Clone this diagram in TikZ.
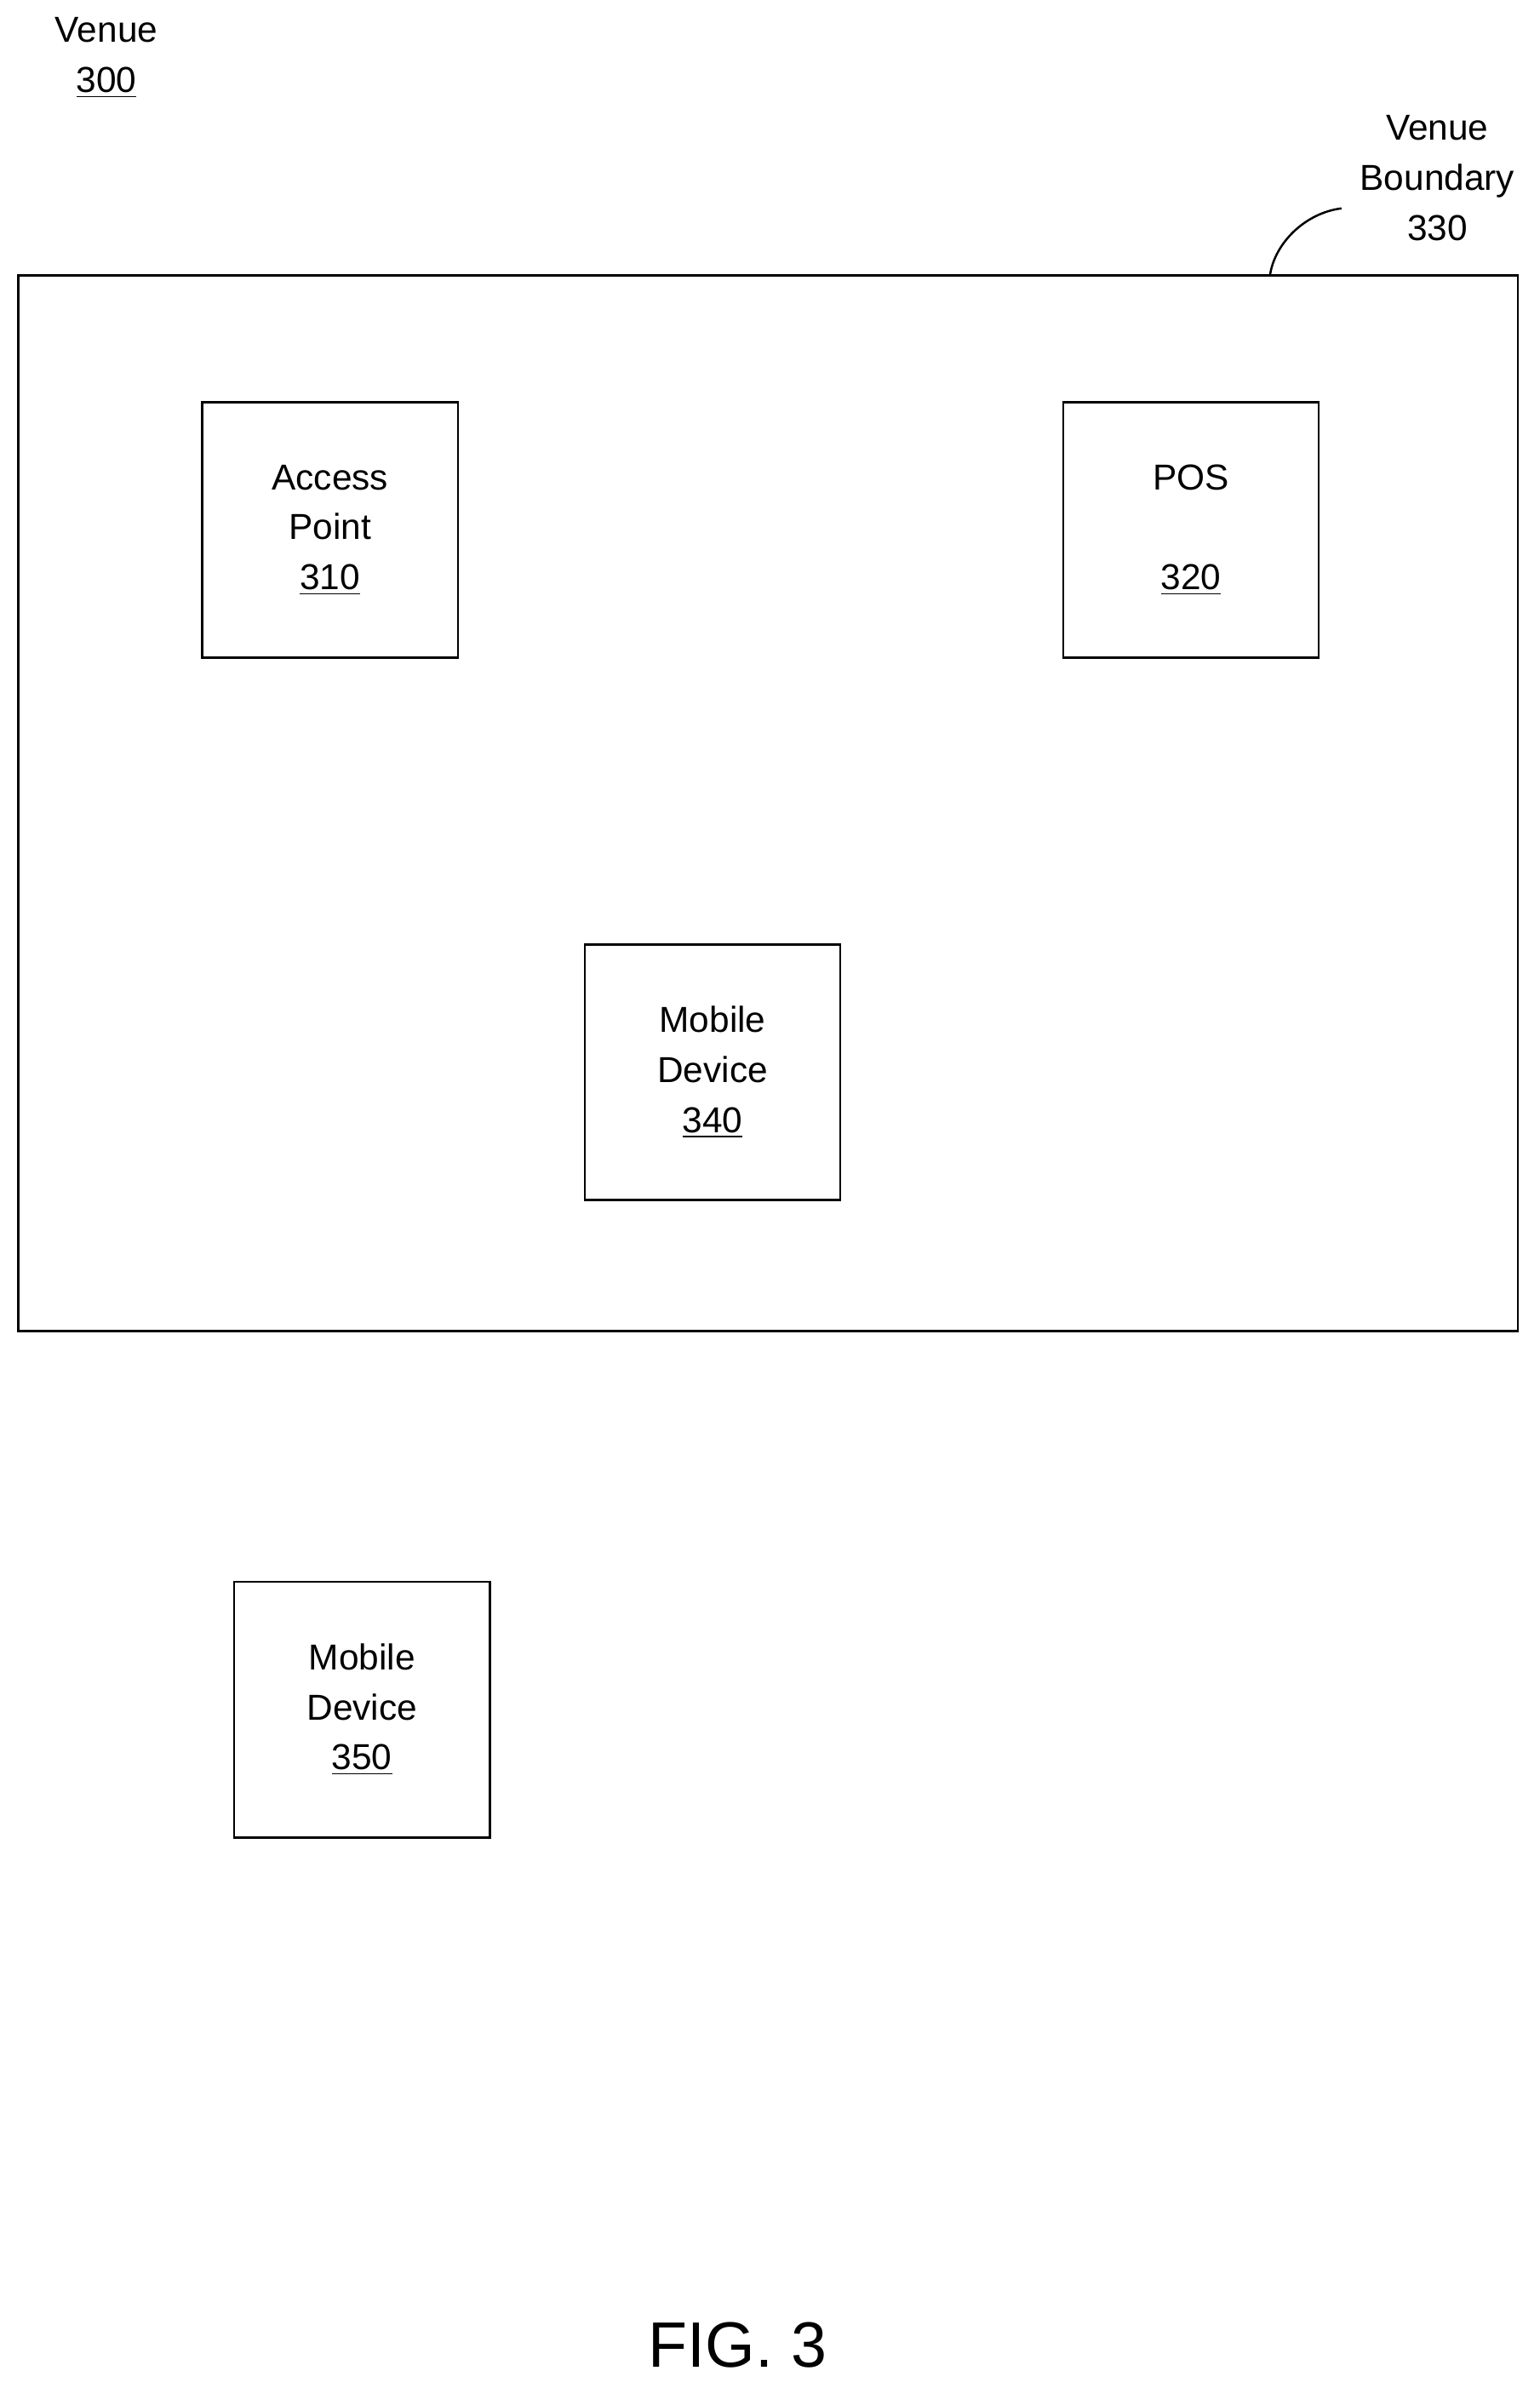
\documentclass[tikz,border=0pt]{standalone}
\usepackage{fontspec}
\setmainfont{Liberation Sans}
\usetikzlibrary{positioning}
\tikzset{
  unit/.style = {draw, thick, minimum width = 33.6mm, minimum height = 33.6mm, align = center, inner sep = 0pt},
  lbl/.style = {align = center}
}
\begin{document}
\begin{tikzpicture}[x = 0.2mm, y = -0.2mm, font = \fontsize{13.5}{18.7}\selectfont]
  \useasboundingbox (0,0) rectangle (1012,1570);

  % Venue
  \node[lbl] (venue) at (70,38) {Venue\\\underline{300}};

  % Boundary
  \draw[thick] (12,181) rectangle (998,875);
  \coordinate (bnd) at (835,181);
  \node[lbl] (bndlbl) at (945,117) {Venue\\Boundary\\330};
  \draw[thick] (bnd) .. controls (838,160) and (858,140) .. (882,137);

  % Units
  \node[unit] (ap)  at (217,348.5) {Access\\Point\\\underline{310}};
  \node[unit] (pos) at (783,348.5) {POS\\\\\underline{320}};
  \node[unit] (md1) at (468.5,705) {Mobile\\Device\\\underline{340}};
  \node[unit] (md2) at (238,1124) {Mobile\\Device\\\underline{350}};

  % Figure label
  \node (fig) at (485,1542) {\fontsize{24}{28}\selectfont FIG. 3};
\end{tikzpicture}
\end{document}
